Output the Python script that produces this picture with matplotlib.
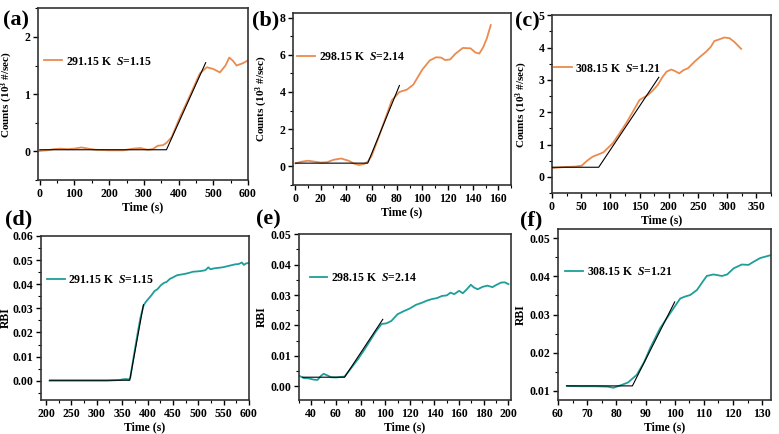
import matplotlib
matplotlib.use('Agg')
from matplotlib import pyplot as plt
from matplotlib.ticker import AutoMinorLocator, FormatStrFormatter
import numpy as np

plt.rcParams['font.family'] = ['Liberation Serif', 'DejaVu Serif']
plt.rcParams['font.weight'] = 'bold'
plt.rcParams['axes.labelweight'] = 'bold'
plt.rcParams['mathtext.fontset'] = 'custom'
plt.rcParams['mathtext.rm'] = 'Liberation Serif:bold'
plt.rcParams['mathtext.it'] = 'Liberation Serif:italic:bold'
plt.rcParams['mathtext.bf'] = 'Liberation Serif:bold'

ORANGE = '#EB8B4E'
TEAL = '#1E9E98'

# (a) 291.15 K, counts
a_t = [0, 20, 40, 60, 80, 100, 120, 140, 160, 200, 240, 270, 290, 310, 325,
       340, 355, 365, 380, 404, 433, 461, 481, 500, 519, 535, 546, 557, 567,
       585, 600]
a_y = [0.01, 0.02, 0.04, 0.05, 0.04, 0.05, 0.07, 0.05, 0.03, 0.02, 0.02, 0.05,
       0.06, 0.03, 0.04, 0.10, 0.11, 0.15, 0.25, 0.60, 0.98, 1.36, 1.47, 1.44,
       1.38, 1.50, 1.64, 1.58, 1.50, 1.54, 1.59]
a_fit_t = [0, 365, 478]
a_fit_y = [0.03, 0.03, 1.55]

# (b) 298.15 K, counts
b_t = [0, 5, 10, 15, 20, 25, 30, 36, 42, 46, 50, 54, 57, 60, 65, 70, 76, 82,
       88, 93, 100, 106, 111, 115, 118, 122, 126, 132, 138, 142, 145, 148,
       151, 154]
b_y = [0.16, 0.25, 0.30, 0.25, 0.20, 0.22, 0.35, 0.42, 0.30, 0.15, 0.07, 0.12,
       0.25, 0.55, 1.45, 2.4, 3.55, 4.0, 4.13, 4.4, 5.2, 5.7, 5.87, 5.85,
       5.72, 5.75, 6.05, 6.37, 6.35, 6.12, 6.07, 6.4, 6.9, 7.6]
b_fit_t = [0, 57, 82]
b_fit_y = [0.17, 0.17, 4.35]

# (c) 308.15 K, counts
c_t = [0, 10, 25, 40, 51, 60, 70, 80, 88, 96, 104, 115, 127, 138, 150, 164,
       172, 181, 189, 196, 204, 210, 218, 225, 233, 244, 254, 264, 272, 278,
       286, 295, 304, 312, 318, 324]
c_y = [0.27, 0.29, 0.31, 0.32, 0.35, 0.50, 0.63, 0.70, 0.76, 0.90, 1.04, 1.33,
       1.66, 2.00, 2.38, 2.53, 2.66, 2.84, 3.08, 3.25, 3.32, 3.28, 3.20, 3.30,
       3.36, 3.56, 3.72, 3.87, 4.02, 4.20, 4.25, 4.31, 4.29, 4.18, 4.07, 3.96]
c_fit_t = [0, 80, 183]
c_fit_y = [0.3, 0.3, 3.08]

# (d) 291.15 K, RBI
d_t = [207, 230, 260, 290, 320, 345, 352, 358, 363, 366, 372, 380, 386, 392,
       396, 402, 408, 414, 420, 426, 432, 438, 444, 450, 458, 466, 474, 482,
       490, 498, 506, 514, 520, 524, 532, 540, 548, 556, 564, 572, 580, 586,
       590, 594, 600]
d_y = [0.0, 0.0, 0.0, 0.0, 0.0, 0.0003, 0.0006, 0.0007, 0.0005, 0.0012,
       0.009, 0.019, 0.026, 0.031, 0.0325, 0.034, 0.0355, 0.0372, 0.038,
       0.0395, 0.0405, 0.041, 0.0422, 0.0428, 0.0437, 0.0440, 0.0443, 0.0447,
       0.0452, 0.0453, 0.0455, 0.0458, 0.0470, 0.0462, 0.0466, 0.0468,
       0.0470, 0.0474, 0.0478, 0.0482, 0.0484, 0.0490, 0.0480, 0.0486, 0.0488]
d_fit_t = [207, 365, 392]
d_fit_y = [0.0002, 0.0002, 0.0315]

# (e) 298.15 K, RBI
e_t = [30, 34, 38, 42, 45, 48, 50, 53, 56, 60, 64, 67, 72, 78, 83, 88, 92, 97,
       101, 105, 110, 115, 120, 125, 130, 134, 138, 142, 146, 150, 153, 156,
       160, 163, 166, 169.5, 172, 175, 179, 183, 187, 190, 194, 197, 200]
e_y = [0.0035, 0.0027, 0.0026, 0.0022, 0.0021, 0.0035, 0.0041, 0.0036, 0.003,
       0.0029, 0.0031, 0.0032, 0.0058, 0.009, 0.012, 0.0152, 0.0178, 0.0205,
       0.0207, 0.0215, 0.0237, 0.0247, 0.0256, 0.0268, 0.0275, 0.0282,
       0.0287, 0.029, 0.0297, 0.0299, 0.0308, 0.0303, 0.0314, 0.0306, 0.0318,
       0.0334, 0.0325, 0.0319, 0.0327, 0.0331, 0.0326, 0.0333, 0.0341,
       0.0342, 0.0336]
e_fit_t = [33, 67, 98]
e_fit_y = [0.003, 0.003, 0.022]

# (f) 308.15 K, RBI
f_t = [63, 68, 73, 77, 79, 80.5, 82, 84, 87, 89.5, 91.6, 95, 98.4, 101.9,
       103.5, 105.3, 107.6, 109.5, 111, 113.3, 116.2, 118, 120.2, 123, 125.3,
       127, 129.3, 132.7, 135]
f_y = [0.0113, 0.0112, 0.0112, 0.0111, 0.0108, 0.0112, 0.0116, 0.0122, 0.0142,
       0.0175, 0.0212, 0.0264, 0.0303, 0.0342, 0.0347, 0.0351, 0.0364,
       0.0385, 0.0401, 0.0405, 0.0401, 0.0405, 0.0421, 0.0431, 0.043, 0.0438,
       0.0448, 0.0455, 0.046]
f_fit_t = [63, 85.5, 100]
f_fit_y = [0.0113, 0.0113, 0.0333]

panels = [
    dict(tag='(a)', t=a_t, y=a_y, ft=a_fit_t, fy=a_fit_y, c=ORANGE,
         lab='291.15 K  $S$=1.15', rect=[0.0488, 0.585, 0.2696, 0.396],
         xlim=(-5, 600), ylim=(-0.5, 2.5), xt=np.arange(0, 601, 100),
         yt=[0, 1, 2], yfmt='%d', leg=(0.03, 0.69), tagpos=(0.004, 0.952),
         ylx=-0.11),
    dict(tag='(b)', t=b_t, y=b_y, ft=b_fit_t, fy=b_fit_y, c=ORANGE,
         lab='298.15 K  $S$=2.14', rect=[0.376, 0.574, 0.280, 0.396],
         xlim=(-2, 170), ylim=(-1, 8.25), xt=np.arange(0, 161, 20),
         yt=np.arange(0, 9, 2), yfmt='%d', leg=(0.02, 0.745), tagpos=(0.323, 0.952),
         ylx=-0.105),
    dict(tag='(c)', t=c_t, y=c_y, ft=c_fit_t, fy=c_fit_y, c=ORANGE,
         lab='308.15 K  $S$=1.21', rect=[0.7086, 0.555, 0.281, 0.410],
         xlim=(0, 375), ylim=(-0.5, 5), xt=np.arange(0, 351, 50),
         yt=np.arange(0, 6, 1), yfmt='%d', leg=(0.01, 0.70), tagpos=(0.661, 0.95),
         ylx=-0.10),
    dict(tag='(d)', t=d_t, y=d_y, ft=d_fit_t, fy=d_fit_y, c=TEAL,
         lab='291.15 K  $S$=1.15', rect=[0.0526, 0.0783, 0.267, 0.378],
         xlim=(190, 600), ylim=(-0.008, 0.06), xt=np.arange(200, 601, 50),
         yt=np.arange(0, 0.061, 0.01), yfmt='%.2f', leg=(0.03, 0.73), tagpos=(0.006, 0.495),
         ylx=-0.14),
    dict(tag='(e)', t=e_t, y=e_y, ft=e_fit_t, fy=e_fit_y, c=TEAL,
         lab='298.15 K  $S$=2.14', rect=[0.3838, 0.0783, 0.272, 0.382],
         xlim=(30, 202), ylim=(-0.0045, 0.05), xt=np.arange(40, 201, 20),
         yt=np.arange(0, 0.051, 0.01), yfmt='%.2f', leg=(0.05, 0.735), tagpos=(0.328, 0.495),
         ylx=-0.146),
    dict(tag='(f)', t=f_t, y=f_y, ft=f_fit_t, fy=f_fit_y, c=TEAL,
         lab='308.15 K  $S$=1.21', rect=[0.7163, 0.0783, 0.2734, 0.394],
         xlim=(60, 133), ylim=(0.0076, 0.0524), xt=np.arange(60, 131, 10),
         yt=np.arange(0.01, 0.051, 0.01), yfmt='%.2f', leg=(0.035, 0.75), tagpos=(0.668, 0.492),
         ylx=-0.146),
]

fig = plt.figure(figsize=(7.79, 4.34), dpi=100)

for i, p in enumerate(panels):
    ax = fig.add_axes(p['rect'])
    ax.plot(p['t'], p['y'], color=p['c'], lw=1.3, label=p['lab'], zorder=2)
    ax.plot(p['ft'], p['fy'], color='black', lw=0.8, zorder=3)
    ax.set_xlim(*p['xlim'])
    ax.set_ylim(*p['ylim'])
    ax.set_xticks(p['xt'])
    ax.set_yticks(p['yt'])
    ax.yaxis.set_major_formatter(FormatStrFormatter(p['yfmt']))
    ax.xaxis.set_minor_locator(AutoMinorLocator(2))
    ax.yaxis.set_minor_locator(AutoMinorLocator(2))
    ax.tick_params(which='major', direction='out', length=3.5, width=1,
                   labelsize=8.5, pad=2, top=False, right=False)
    ax.tick_params(which='minor', direction='out', length=2, width=0.8,
                   top=False, right=False)
    for s in ax.spines.values():
        s.set_linewidth(1.2)
        s.set_color('#333333')
    ax.set_xlabel('Time (s)', fontsize=8.5, labelpad=1)
    if i < 3:
        ax.set_ylabel('Counts (10$^3$ #/sec)', fontsize=8)
    else:
        ax.set_ylabel('RBI', fontsize=8.5)
    ax.yaxis.set_label_coords(p['ylx'], 0.5)
    ax.legend(loc='center left', bbox_to_anchor=p['leg'], frameon=False,
              fontsize=8.5, handlelength=1.5, handletextpad=0.3,
              borderpad=0, borderaxespad=0)
    fig.text(p['tagpos'][0], p['tagpos'][1], p['tag'], fontsize=16,
             fontweight='bold', va='center', ha='left')

fig.savefig('out.png', dpi=100)
